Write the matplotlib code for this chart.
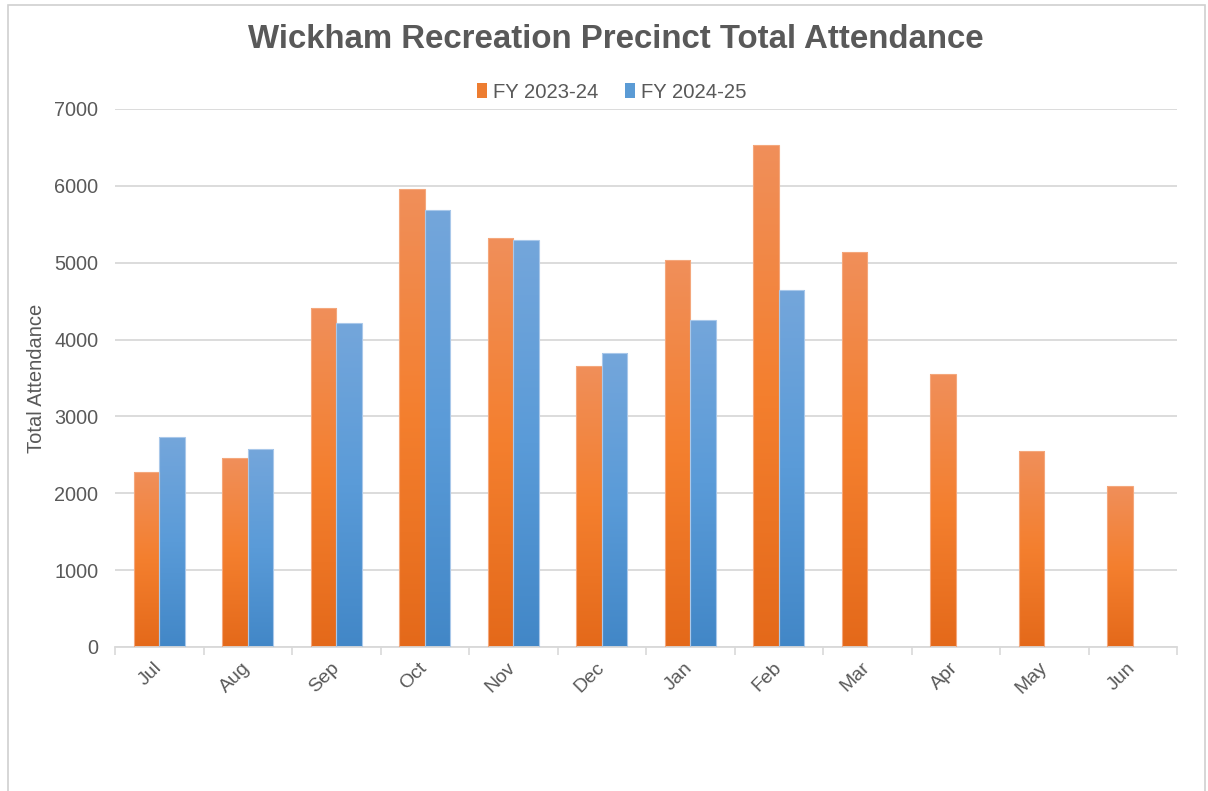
import numpy as np
import matplotlib
matplotlib.use("Agg")
import matplotlib.pyplot as plt
from matplotlib.colors import LinearSegmentedColormap
from matplotlib.patches import Patch, Rectangle

months = ["Jul", "Aug", "Sep", "Oct", "Nov", "Dec", "Jan", "Feb", "Mar", "Apr", "May", "Jun"]
fy_2023_24 = [2280, 2455, 4410, 5960, 5320, 3660, 5030, 6530, 5140, 3550, 2545, 2090]
fy_2024_25 = [2730, 2575, 4210, 5685, 5300, 3825, 4255, 4645, np.nan, np.nan, np.nan, np.nan]
series_names = ["FY 2023-24", "FY 2024-25"]
yticks = [0, 1000, 2000, 3000, 4000, 5000, 6000, 7000]

plt.rcParams['font.family'] = ['Liberation Sans', 'DejaVu Sans']
TXT = "#595959"

fig = plt.figure(figsize=(12.08, 7.91), dpi=100)
fig.patches.append(Rectangle((8/1208, -0.01), (1205-8)/1208, 1 - 5/791 + 0.01,
                             transform=fig.transFigure, fill=False,
                             edgecolor="#d0d0d0", linewidth=1.2))
ax = fig.add_axes([115/1208, 1-647/791, (1177-115)/1208, (647-109)/791])

x = np.arange(len(months))
w = 0.29
orange_cmap = LinearSegmentedColormap.from_list("o", ["#E4691A", "#F47F2E", "#F08F5A"])
blue_cmap = LinearSegmentedColormap.from_list("b", ["#4287C7", "#5A9BD8", "#74A6DB"])

def gradient_bars(bars, cmap, edge):
    grad = np.linspace(0, 1, 256).reshape(-1, 1)
    for b in bars:
        h = b.get_height()
        if not np.isfinite(h) or h <= 0:
            continue
        x0 = b.get_x(); x1 = x0 + b.get_width()
        im = ax.imshow(grad, cmap=cmap, origin="lower", aspect="auto",
                       extent=[x0, x1, 0, h], zorder=2.5)
        im.set_clip_path(b)
        b.set_facecolor("none")
        b.set_edgecolor(edge)
        b.set_linewidth(0.8)
        b.set_zorder(2.6)

b1 = ax.bar(x - w/2, fy_2023_24, width=w, color="#ED7D31", zorder=2)
b2 = ax.bar(x + w/2, fy_2024_25, width=w, color="#5B9BD5", zorder=2)
gradient_bars(b1, orange_cmap, "#F4A77C")
gradient_bars(b2, blue_cmap, "#A9C8EA")

ax.set_xlim(-0.5, len(months) - 0.5)
ax.set_ylim(0, 7000)
ax.set_yticks(yticks)
ax.set_yticklabels([str(v) for v in yticks], color=TXT, fontsize=14.3)
ax.yaxis.grid(True, color="#d9d9d9", linewidth=1.3, zorder=0)
ax.set_axisbelow(True)
ax.tick_params(axis="y", length=0, pad=12)

ax.set_xticks(x)
ax.set_xticklabels(months, rotation=45, color=TXT, fontsize=14,
                   ha="right", va="center", rotation_mode="anchor")
ax.set_xticks(np.arange(-0.5, len(months)), minor=True)
ax.tick_params(axis="x", which="major", length=0, pad=13)
ax.tick_params(axis="x", which="minor", length=6, color="#d9d9d9", width=1.2)

for s in ["top", "right", "left"]:
    ax.spines[s].set_visible(False)
ax.spines["bottom"].set_color("#d9d9d9")
ax.spines["bottom"].set_linewidth(1.3)

ax.set_ylabel("Total Attendance", color=TXT, fontsize=14.5, labelpad=6)

fig.text(616/1208, 1-40/791, "Wickham Recreation Precinct Total Attendance",
         ha="center", va="center", fontsize=23.8, fontweight="bold", color=TXT)

handles = [Patch(facecolor="#ED7D31"), Patch(facecolor="#5B9BD5")]
fig.legend(handles, series_names, loc="center", bbox_to_anchor=(612/1208, 1-92/791),
           ncol=2, frameon=False, fontsize=14.6, labelcolor=TXT,
           handlelength=0.5, handleheight=0.8, handletextpad=0.3, columnspacing=1.3)

fig.savefig("out.png", dpi=100, facecolor="white")
